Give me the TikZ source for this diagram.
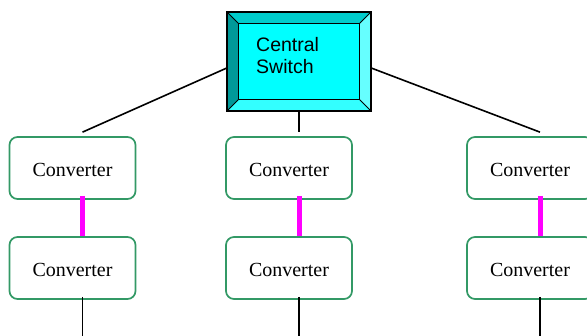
\documentclass[tikz,border=0pt]{standalone}
\usepackage{fontspec}
\setmainfont{Liberation Serif}
\newfontfamily\switchfont{Liberation Sans}
\usetikzlibrary{positioning}

\definecolor{convgreen}{RGB}{51,153,102}
\definecolor{bridgepink}{RGB}{255,0,255}
\definecolor{bevelface}{RGB}{0,255,255}
\definecolor{beveltop}{RGB}{0,204,204}
\definecolor{bevelleft}{RGB}{0,153,153}
\definecolor{bevelright}{RGB}{102,255,255}
\definecolor{bevelbottom}{RGB}{51,255,255}

\begin{document}
\begin{tikzpicture}[
        x=1pt, y=-1pt,
        converter/.style={
            rectangle,
            rounded corners=8pt,
            draw=convgreen,
            line width=1.7pt,
            minimum width=126pt,
            minimum height=62pt,
            text height=18pt,
            text depth=0pt,
            font=\fontsize{20}{24}\selectfont,
            anchor=center
        },
        link/.style={black, line width=1.6pt},
        bridge/.style={bridgepink, line width=5pt}
    ]

    % (0,0) at top left, one unit per pixel
    \useasboundingbox (0,0) rectangle (587,336);

    % --- central switch ---
    \node[minimum width=144pt, minimum height=99pt, inner sep=0] (switch) at (299,61.5) {};
    \coordinate (inw) at ([shift={(12pt,-12pt)}]switch.north west);
    \coordinate (ine) at ([shift={(-12pt,-12pt)}]switch.north east);
    \coordinate (isw) at ([shift={(12pt,12pt)}]switch.south west);
    \coordinate (ise) at ([shift={(-12pt,12pt)}]switch.south east);

    \fill[beveltop] (switch.north west) -- (switch.north east) -- (ine) -- (inw) -- cycle;
    \fill[bevelleft] (switch.north west) -- (inw) -- (isw) -- (switch.south west) -- cycle;
    \fill[bevelright] (switch.north east) -- (switch.south east) -- (ise) -- (ine) -- cycle;
    \fill[bevelbottom] (switch.south west) -- (isw) -- (ise) -- (switch.south east) -- cycle;
    \fill[bevelface] (inw) rectangle (ise);

    \draw[line width=1.1pt] (inw) rectangle (ise);
    \draw[line width=0.9pt] (switch.north west) -- (inw)
        (switch.north east) -- (ine)
        (switch.south west) -- (isw)
        (switch.south east) -- (ise);
    \draw[line width=1.9pt] (switch.north west) rectangle (switch.south east);

    \node[anchor=north west, inner sep=0, align=left,
        font=\switchfont\fontsize{19.5}{22}\selectfont] (switchtext) at (256,37) {Central\\Switch};

    % --- converter pairs (name/x centre) ---
    \foreach \name/\x in {a/72.5, b/289, c/530} {
        \node[converter] (\name1) at (\x,168) {Converter};
        \node[converter] (\name2) at (\x,268) {Converter};
        \draw[bridge] ([xshift=10pt, yshift=4pt]\name1.south) -- ([xshift=10pt]\name2.north);
        \draw[link] ([xshift=10pt, yshift=3pt]\name2.south) -- ++(0,40);
    }

    % links from the switch
    \draw[link] ([yshift=-6.5pt]switch.west) -- ([xshift=10pt, yshift=4pt]a1.north);
    \draw[link] ([yshift=-6.5pt]switch.east) -- ([xshift=10pt, yshift=4pt]c1.north);
    \draw[link] (switch.south) -- ([xshift=10pt, yshift=4pt]b1.north);

\end{tikzpicture}
\end{document}
